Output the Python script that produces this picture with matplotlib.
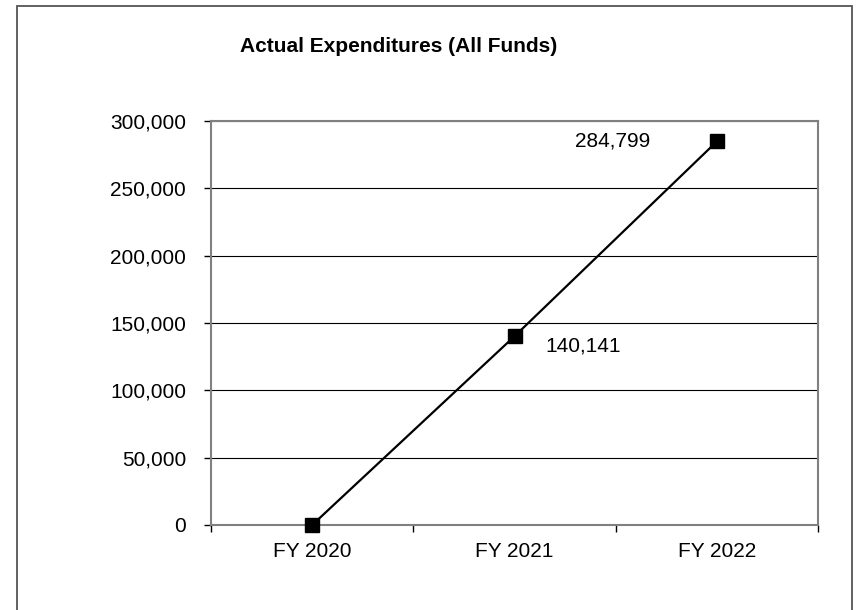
import matplotlib
matplotlib.use("Agg")
import matplotlib.pyplot as plt
from matplotlib.patches import Rectangle
from matplotlib.ticker import FuncFormatter, FixedLocator

categories = ["FY 2020", "FY 2021", "FY 2022"]
values = [0, 140141, 284799]
label_text = ["", "140,141", "284,799"]

plt.rcParams['font.family'] = ['Liberation Sans', 'DejaVu Sans']

W, H = 859, 610
fig = plt.figure(figsize=(W/100, H/100), dpi=100)
fig.patches.append(Rectangle((17/W, -10/H), (852-17)/W, (617-3)/H, transform=fig.transFigure,
                             fill=False, edgecolor='#555555', linewidth=1.3))

ax = fig.add_axes([211/W, 1-525/H, (818-211)/W, (525-121)/H])
x = list(range(len(categories)))
ax.plot(x, values, color='black', linewidth=1.6, marker='s', markersize=10.5, zorder=3, clip_on=False)
ax.set_xlim(-0.5, 2.5)
ax.set_ylim(0, 300000)
ax.set_yticks(range(0, 300001, 50000))
ax.yaxis.set_major_formatter(FuncFormatter(lambda v, p: f"{int(v):,}"))
ax.set_xticks(x)
ax.set_xticklabels(categories)
ax.xaxis.set_minor_locator(FixedLocator([-0.5, 0.5, 1.5, 2.5]))
ax.tick_params(axis='x', which='major', length=0, pad=12, labelsize=15)
ax.tick_params(axis='x', which='minor', length=5, width=1, direction='out')
ax.tick_params(axis='y', length=5, width=1, direction='out', pad=13, labelsize=15)
ax.grid(axis='y', color='black', linewidth=0.8)
ax.set_axisbelow(True)
for s in ax.spines.values():
    s.set_color('#808080')
    s.set_linewidth(1.5)

ax.annotate(label_text[1], (x[1], values[1]), xytext=(22, -7), textcoords='offset points',
            fontsize=15, ha='left', va='center')
ax.annotate(label_text[2], (x[2], values[2]), xytext=(-48, 0), textcoords='offset points',
            fontsize=15, ha='right', va='center')

fig.text(399/W, 1-47/H, "Actual Expenditures (All Funds)", fontsize=15, fontweight='bold',
         ha='center', va='center')

fig.savefig("out.png", dpi=100)
